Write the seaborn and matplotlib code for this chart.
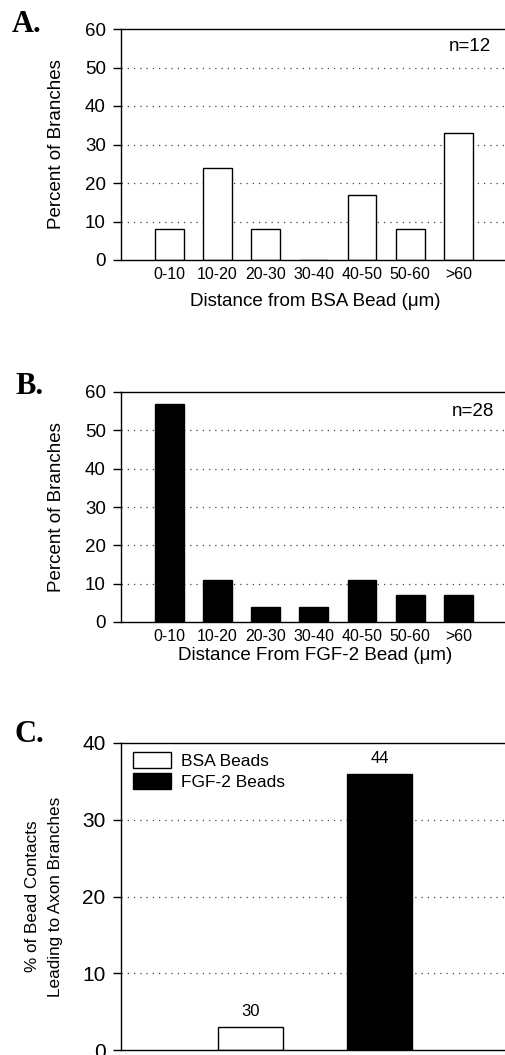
import numpy as np
import pandas as pd
import matplotlib
matplotlib.use("Agg")
import matplotlib.pyplot as plt
from matplotlib.patches import Patch
import seaborn as sns

# Data
bins = ["0-10", "10-20", "20-30", "30-40", "40-50", "50-60", ">60"]
bsa_pct = [8, 24, 8, 0, 17, 8, 33]
fgf_pct = [57, 11, 4, 4, 11, 7, 7]
bsa_n = "n=12"
fgf_n = "n=28"

bead_groups = ["BSA Beads", "FGF-2 Beads"]
bead_colors = ["white", "black"]
contact_pct = [3, 36]
contact_counts = ["30", "44"]

sns.set_theme(style="white")
plt.rcParams["font.family"] = ["Liberation Sans", "DejaVu Sans"]
plt.rcParams.update({
    "axes.linewidth": 1.0,
    "text.color": "black",
    "axes.labelcolor": "black",
    "xtick.color": "black",
    "ytick.color": "black",
})

W, H = 506, 1055
fig = plt.figure(figsize=(W / 100, H / 100), dpi=100)


def make_ax(top_px, bottom_px):
    left = 121 / W
    width = (W + 3 - 121) / W
    bottom = 1 - bottom_px / H
    height = (bottom_px - top_px) / H
    return fig.add_axes([left, bottom, width, height])


def style_ax(ax, ymax, step, tick_size):
    ax.set_ylim(0, ymax)
    ax.set_yticks(np.arange(0, ymax + 1, step))
    for y in np.arange(step, ymax, step):
        ax.axhline(y, color="#444444", lw=0.9, ls=(0, (1, 4)), zorder=0)
    ax.spines["right"].set_visible(False)
    for s in ["left", "top", "bottom"]:
        ax.spines[s].set_color("black")
    ax.tick_params(axis="y", direction="out", length=6, width=1, color="black",
                   labelsize=tick_size, pad=5, left=True)
    ax.tick_params(axis="x", length=0, labelsize=11.5, pad=5)
    ax.set_axisbelow(True)


# Panel A
axA = make_ax(29, 260)
dfA = pd.DataFrame({"bin": bins, "pct": bsa_pct})
sns.barplot(data=dfA, x="bin", y="pct", color="white", edgecolor="black",
            linewidth=1.0, width=0.6, saturation=1, ax=axA, zorder=2)
axA.set_xlim(-1, 7.05)
style_ax(axA, 60, 10, 13.5)
axA.set_ylabel("Percent of Branches", fontsize=13.5, labelpad=14)
axA.set_xlabel("Distance from BSA Bead (\u03bcm)", fontsize=13.5, labelpad=8)
axA.text(0.90, 0.925, bsa_n, transform=axA.transAxes, ha="center", va="center", fontsize=13.5)
fig.text(12 / W, 1 - 25 / H, "A.", fontsize=22, fontweight="bold",
         family="Liberation Serif", va="center", ha="left")

# Panel B
axB = make_ax(392, 622)
dfB = pd.DataFrame({"bin": bins, "pct": fgf_pct})
sns.barplot(data=dfB, x="bin", y="pct", color="black", edgecolor="black",
            linewidth=1.0, width=0.6, saturation=1, ax=axB, zorder=2)
axB.set_xlim(-1, 7.05)
style_ax(axB, 60, 10, 13.5)
axB.set_ylabel("Percent of Branches", fontsize=13.5, labelpad=14)
axB.set_xlabel("Distance From FGF-2 Bead (\u03bcm)", fontsize=13.5, labelpad=2)
axB.text(0.907, 0.915, fgf_n, transform=axB.transAxes, ha="center", va="center", fontsize=13.5)
fig.text(15 / W, 1 - 386 / H, "B.", fontsize=22, fontweight="bold",
         family="Liberation Serif", va="center", ha="left")

# Panel C
axC = make_ax(743, 1050)
dfC = pd.DataFrame({"group": bead_groups, "pct": contact_pct})
sns.barplot(data=dfC, x="group", y="pct", hue="group",
            palette=dict(zip(bead_groups, bead_colors)),
            edgecolor="black", linewidth=1.0, width=0.5, saturation=1,
            dodge=False, legend=False, ax=axC, zorder=2)
axC.set_xlim(-1, 2.0)
style_ax(axC, 40, 10, 15)
axC.set_xticks([])
axC.set_xlabel("")
axC.set_ylabel("% of Bead Contacts\nLeading to Axon Branches", fontsize=12.3, labelpad=14,
               linespacing=1.65)
for i, (v, c) in enumerate(zip(contact_pct, contact_counts)):
    axC.annotate(c, (i, v), xytext=(0, 11), textcoords="offset points",
                 ha="center", va="center", fontsize=12)
handles = [Patch(facecolor=c, edgecolor="black", linewidth=1.0, label=g)
           for g, c in zip(bead_groups, bead_colors)]
axC.legend(handles=handles, loc="upper left", frameon=False, fontsize=12.5,
           handlelength=2.2, handleheight=1.0, handletextpad=0.55,
           borderpad=0, borderaxespad=0, labelspacing=0.25,
           bbox_to_anchor=(12 / 388, 1 - 9 / 307))
fig.text(15 / W, 1 - 734 / H, "C.", fontsize=22, fontweight="bold",
         family="Liberation Serif", va="center", ha="left")

fig.savefig("out.png", dpi=100)
